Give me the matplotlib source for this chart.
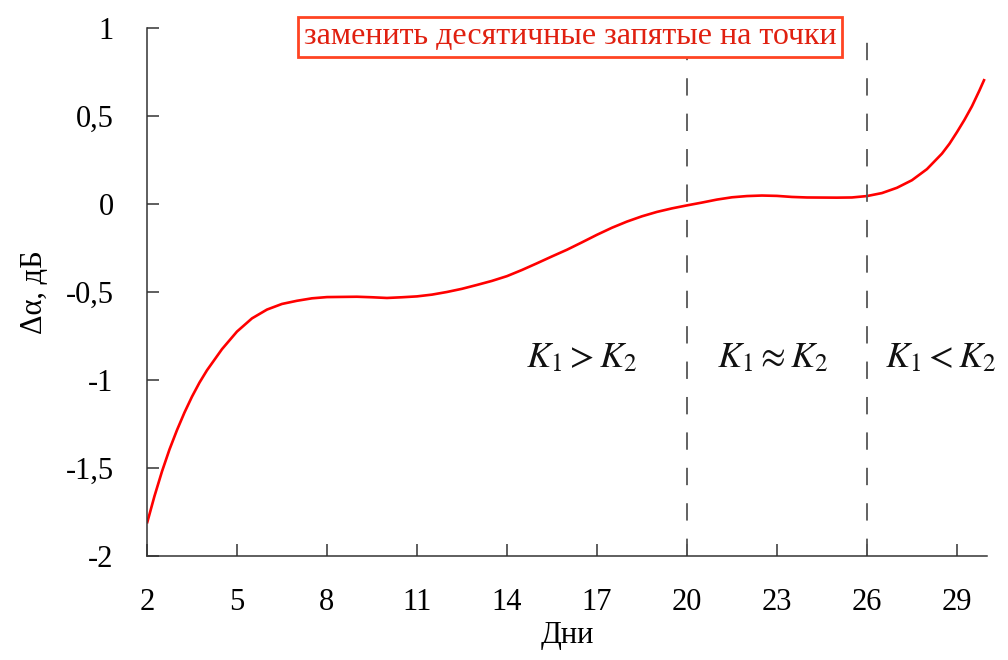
import matplotlib
matplotlib.use("Agg")
import matplotlib.pyplot as plt

# Data
days = [2, 2.25, 2.5, 2.75, 3, 3.25, 3.5, 3.75, 4, 4.5, 5, 5.5, 6, 6.5, 7, 7.5, 8,
        9, 9.5, 10, 10.5, 11, 11.5, 12, 12.5, 13, 13.5, 14, 14.5, 15, 15.5, 16,
        16.5, 17, 17.5, 18, 18.5, 19, 19.5, 20, 20.5, 21, 21.5, 22, 22.5, 23,
        23.5, 24, 25, 25.5, 26, 26.5, 27, 27.5, 28, 28.5, 28.75, 29, 29.25, 29.5,
        29.75, 29.92]
delta_alpha = [-1.815, -1.66, -1.52, -1.395, -1.285, -1.185, -1.095, -1.015, -0.945,
               -0.825, -0.725, -0.65, -0.60, -0.568, -0.55, -0.536, -0.529, -0.527,
               -0.53, -0.534, -0.53, -0.525, -0.515, -0.50, -0.482, -0.46, -0.437,
               -0.41, -0.375, -0.337, -0.298, -0.26, -0.218, -0.175, -0.135, -0.10,
               -0.07, -0.045, -0.025, -0.008, 0.008, 0.025, 0.038, 0.045, 0.048,
               0.046, 0.04, 0.037, 0.036, 0.037, 0.045, 0.062, 0.092, 0.135, 0.198,
               0.286, 0.342, 0.408, 0.478, 0.555, 0.645, 0.71]

x_ticks = [2, 5, 8, 11, 14, 17, 20, 23, 26, 29]
y_ticks = [1, 0.5, 0, -0.5, -1, -1.5, -2]
y_tick_labels = ["1", "0,5", "0", "-0,5", "-1", "-1,5", "-2"]
boundaries = [20, 26]
region_labels = [r"$K_1 > K_2$", r"$K_1 \approx K_2$", r"$K_1 < K_2$"]
region_x = [16.5, 22.85, 28.45]

plt.rcParams["font.family"] = ["Liberation Serif", "DejaVu Serif"]
plt.rcParams["mathtext.fontset"] = "stix"

fig = plt.figure(figsize=(10.08, 6.60), dpi=100)
ax = fig.add_axes([0.1458, 0.1576, 0.8333, 0.8])

ax.plot(days, delta_alpha, color="#ff0000", lw=1.9, solid_capstyle="butt",
        solid_joinstyle="round")

for b in boundaries:
    ax.plot([b, b], [-2, 1], color="#555555", lw=1.3,
            linestyle=(0, (12.5 / 1.3, 13 / 1.3)))

ax.set_xlim(2, 30)
ax.set_ylim(-2, 1)
ax.set_xticks(x_ticks)
ax.set_xticklabels([str(t) for t in x_ticks])
ax.set_yticks(y_ticks)
ax.set_yticklabels(y_tick_labels)

for s in ["top", "right"]:
    ax.spines[s].set_visible(False)
for s in ["left", "bottom"]:
    ax.spines[s].set_color("#333333")
    ax.spines[s].set_linewidth(1.1)

ax.tick_params(axis="both", direction="in", length=8.5, width=1.1, color="#333333",
               labelsize=22)
ax.tick_params(axis="x", pad=23)
ax.tick_params(axis="y", pad=24)

ax.set_xlabel("Дни", fontsize=22, labelpad=3)
ax.set_ylabel("Δα, дБ", fontsize=22, labelpad=12)

for xl, lab in zip(region_x, region_labels):
    ax.text(xl, -0.88, lab, ha="center", va="center", fontsize=26, color="#111111")

ax.text(16.1, 0.95, "заменить десятичные запятые на точки", ha="center", va="center",
        fontsize=23, color="#e02010",
        bbox=dict(boxstyle="square,pad=0.18", facecolor="white", edgecolor="#ff4422",
                  linewidth=2))

fig.savefig("out.png", dpi=100)
